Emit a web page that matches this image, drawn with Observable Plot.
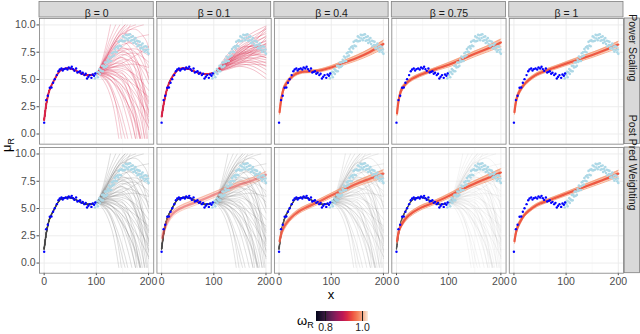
<!DOCTYPE html>
<html><head><meta charset="utf-8">
<script src="https://cdn.jsdelivr.net/npm/d3@7"></script>
<script src="https://cdn.jsdelivr.net/npm/@observablehq/plot@0.6"></script>
<style>
body{margin:0;background:#fff;}
#wrap{position:relative;width:640px;height:334px;overflow:hidden;background:#fff;font-family:"Liberation Sans",Arial,Helvetica,sans-serif;}
#chart{position:absolute;left:0;top:0;}
.lbl{position:absolute;color:#000;white-space:nowrap;}
.sub{font-size:9px;position:relative;top:3px;}
</style></head><body>
<div id="wrap"><div id="chart"></div>
<div class="lbl" style="left:-13px;top:137px;width:40px;height:16px;line-height:16px;text-align:center;transform:rotate(-90deg);font-size:13px;">μ<span class="sub">R</span></div>
<div class="lbl" style="left:311px;top:287px;width:40px;line-height:16px;text-align:center;font-size:13px;">x</div>
<div class="lbl" style="left:297px;top:314px;line-height:13px;font-size:13px;">ω<span class="sub">R</span></div>
<div id="legend" style="position:absolute;left:315.7px;top:311px;"></div>
</div>
<script>
// ---------- categories & ticks ----------
const betas = ["β = 0", "β = 0.1", "β = 0.4", "β = 0.75", "β = 1"];
const methods = ["Power Scaling", "Post Pred Weighting"];
const xTicks = [0, 100, 200];
const xMinor = [50, 150];
const yTicks = [0, 2.5, 5, 7.5, 10];
const yMinor = [1.25, 3.75, 6.25, 8.75];
const omegaTicks = [0.8, 1.0];

// ---------- observed (training) data ----------
const obsX = [0, 3.8, 7, 10.8, 14, 17.1, 20.3, 24.2, 27.4, 29.9, 33.1, 35.6, 38.2, 41.4, 44.6, 47.1, 50.3, 52.9, 55.4, 58, 61.2, 63.7, 66.3, 68.8, 71.4, 73.9, 77.1, 79.6, 82.2, 84.7, 87.3, 90.5, 93, 95.6, 98.1];
const obsY = [1.04, 3.11, 3.51, 4.24, 4.27, 4.7, 5.03, 5.4, 5.76, 5.92, 6.01, 5.82, 5.95, 6.01, 5.92, 6.1, 6.01, 6.16, 5.95, 5.79, 6.01, 5.64, 5.7, 5.76, 5.52, 5.61, 5.4, 5.52, 5.09, 5.25, 5.4, 5.15, 5.46, 5.34, 5.55];

// ---------- test data ----------
const testX = [96, 97.5, 99, 100.5, 102, 103, 104.5, 106, 107, 108.5, 110, 111, 112.5, 114, 115, 116.5, 118, 119, 120.5, 122, 123, 124.5, 126, 127, 128.5, 130, 131, 132.5, 134, 135, 136.5, 138, 139, 140.5, 142, 143, 144.5, 146, 147, 148.5, 150, 151, 152.5, 154, 155, 156.5, 158, 159, 160.5, 162, 163, 164.5, 166, 167, 168.5, 170, 171, 172.5, 174, 175, 176.5, 178, 179, 180.5, 182, 183, 184.5, 186, 187, 188.5, 190, 191, 192.5, 194, 195, 196.5, 198, 199, 200];
const testY = [5.4, 5.1, 5.6, 5.4, 5.7, 5.2, 5.65, 5.95, 5.5, 5.85, 5.75, 6.25, 5.75, 6.25, 6.1, 6.55, 6.15, 6.55, 6.25, 6.8, 6.6, 7.1, 6.7, 7.0, 6.7, 7.4, 7.1, 7.5, 7.2, 7.8, 7.55, 7.95, 7.5, 8.05, 7.85, 8.45, 8.1, 8.55, 8.05, 8.6, 8.5, 8.95, 8.5, 8.85, 8.55, 9.1, 8.75, 9.05, 8.6, 9.1, 8.8, 9.15, 8.55, 8.9, 8.6, 8.95, 8.35, 8.65, 8.45, 8.8, 8.25, 8.55, 8.05, 8.5, 8.15, 8.45, 7.85, 8.15, 7.9, 8.3, 7.75, 8.0, 7.55, 8.05, 7.7, 8.0, 7.5, 7.75, 7.35];

// ---------- fitted curves over the training range ----------
const fitX = [0, 5, 10, 15, 20, 25, 30, 35, 40, 45, 50, 55, 60, 65, 70, 75, 80, 85, 90, 95, 100];
const fitBeta0 = [1.3, 3.0, 4.0, 4.55, 5.0, 5.45, 5.78, 5.95, 6.0, 6.02, 6.0, 5.93, 5.83, 5.7, 5.58, 5.48, 5.4, 5.38, 5.4, 5.45, 5.55];
const fitBeta01 = [1.6, 3.0, 4.05, 4.75, 5.2, 5.55, 5.82, 5.97, 6.02, 6.01, 5.97, 5.9, 5.8, 5.7, 5.61, 5.54, 5.5, 5.49, 5.51, 5.55, 5.6];

// ---------- extrapolation tails of the beta = 0 draws, [x, y] ----------
const tailsBeta0 = [
  [[110,6.6],[120,8.4],[127,10.0]],
  [[110,6.4],[125,8.6],[137,10.0]],
  [[115,6.9],[130,8.7],[145,10.0]],
  [[115,6.6],[135,8.7],[155,10.0]],
  [[120,7.0],[140,8.8],[160,9.7],[175,10.0]],
  [[125,7.2],[150,9.0],[170,9.7],[190,10.0]],
  [[125,7.8],[145,9.5],[155,10.0]],
  [[125,7.1],[150,8.8],[165,10.0]],
  [[125,6.7],[150,8.0],[175,8.8],[200,9.1]],
  [[125,6.0],[150,6.5],[175,7.2],[200,8.0]],
  [[125,6.6],[150,7.6],[175,7.8],[200,7.2]],
  [[125,7.0],[150,8.2],[175,8.3],[200,7.5]],
  [[125,7.4],[150,8.6],[175,8.0],[200,6.2]],
  [[125,7.6],[150,9.2],[170,9.0],[190,7.0],[200,5.0]],
  [[125,6.8],[150,7.8],[175,7.5],[200,5.2]],
  [[125,6.4],[150,7.2],[175,7.4],[200,6.6]],
  [[125,6.2],[150,6.8],[175,6.6],[200,5.6]],
  [[125,6.8],[150,7.5],[175,6.8],[200,4.6]],
  [[120,7.2],[140,8.5],[160,8.2],[180,6.0],[195,3.0],[200,1.8]],
  [[125,6.9],[150,7.9],[175,7.0],[195,3.5],[200,2.0]],
  [[125,6.5],[150,7.0],[175,6.0],[200,3.0]],
  [[125,6.1],[150,6.0],[175,5.4],[200,4.0]],
  [[125,6.3],[150,6.4],[175,4.8],[195,1.5],[200,0.4]],
  [[125,6.3],[150,7.0],[175,5.0],[190,1.5],[196,-0.4]],
  [[125,6.0],[150,6.2],[175,5.2],[200,2.8]],
  [[125,5.9],[150,5.8],[175,4.6],[200,2.2]],
  [[125,5.7],[150,5.5],[175,4.0],[200,1.2]],
  [[125,5.5],[150,5.0],[175,3.6],[200,1.6]],
  [[125,5.8],[150,5.2],[175,3.0],[193,-0.4]],
  [[125,5.8],[150,5.6],[170,3.0],[180,0.5],[183,-0.4]],
  [[125,5.6],[150,4.8],[170,2.5],[185,-0.4]],
  [[125,5.3],[150,4.4],[175,2.8],[200,0.6]],
  [[125,5.0],[150,3.6],[175,1.2],[185,-0.4]],
  [[120,5.2],[140,4.4],[160,2.8],[180,0.2],[183,-0.4]],
  [[125,5.4],[145,4.0],[165,1.5],[175,-0.4]],
  [[125,5.4],[150,4.0],[165,1.8],[175,-0.4]],
  [[125,5.1],[145,3.5],[160,1.2],[168,-0.4]],
  [[120,5.0],[140,3.0],[155,0.6],[160,-0.4]],
  [[120,4.8],[140,2.4],[150,0.5],[155,-0.4]],
  [[120,4.9],[135,3.2],[148,-0.4]],
  [[115,4.8],[130,3.0],[143,-0.4]],
  [[125,6.2],[150,6.6],[170,5.4],[185,2.2],[192,-0.4]],
  [[125,5.9],[150,5.0],[170,2.0],[178,-0.4]],
  [[125,6.5],[150,7.3],[175,6.5],[195,2.5],[200,1.0]],
  [[125,7.3],[150,9.2],[175,9.6],[195,8.6],[200,7.9]],
  [[120,6.6],[140,7.6],[160,7.4],[180,5.0],[195,1.0],[198,-0.4]],
  [[125,6.1],[150,6.3],[175,6.4],[200,6.1]],
  [[125,5.6],[150,5.2],[175,4.4],[200,3.4]],
  [[120,5.4],[140,4.9],[160,3.6],[180,1.4],[188,-0.4]],
  [[125,7.5],[150,9.5],[160,10.0]]
];

// ---------- extrapolation tails of the power-scaled beta = 0.1 draws ----------
const tailX01 = [125, 150, 175, 200];
const tailsBeta01 = [
  [7.2, 8.5, 9.3, 9.9], [7.0, 8.2, 9.0, 9.6], [6.9, 8.0, 8.7, 9.2], [6.8, 7.8, 8.4, 8.9],
  [6.7, 7.6, 8.1, 8.5], [6.6, 7.5, 7.9, 8.2], [6.6, 7.4, 7.7, 7.9], [6.5, 7.3, 7.6, 7.7],
  [6.5, 7.2, 7.5, 7.5], [6.4, 7.1, 7.3, 7.3], [6.4, 7.0, 7.2, 7.0], [6.3, 6.9, 7.0, 6.8],
  [6.3, 6.8, 6.9, 6.5], [6.2, 6.7, 6.7, 6.2], [6.1, 6.6, 6.5, 5.9], [6.0, 6.4, 6.2, 5.5],
  [5.9, 6.2, 5.9, 5.1], [6.7, 7.4, 8.3, 9.7], [6.5, 7.4, 8.2, 9.0], [6.4, 7.3, 7.9, 8.6],
  [6.3, 7.1, 7.6, 8.1], [6.6, 7.7, 8.1, 8.0], [6.2, 6.8, 7.2, 7.6], [6.1, 6.5, 6.9, 7.2],
  [6.0, 6.3, 6.4, 6.3], [6.8, 7.9, 8.0, 7.4], [6.5, 7.0, 7.7, 8.8], [6.3, 6.6, 7.4, 8.3],
  [6.6, 7.6, 8.5, 9.4], [6.4, 7.2, 7.8, 8.3], [6.2, 6.9, 7.4, 7.8], [6.0, 6.5, 6.6, 6.6],
  [6.5, 7.3, 7.4, 7.0], [6.7, 7.8, 8.7, 9.8]
];

// ---------- weighted / scaled bands: lower, middle, upper ----------
const bandX = [1, 5, 10, 20, 30, 40, 50, 75, 100, 125, 150, 175, 200];
const powB04Lo  = [1.8, 3.2, 4.1, 4.85, 5.3, 5.52, 5.6, 5.68, 5.95, 6.35, 6.75, 7.25, 7.85];
const powB04Mid = [2.0, 3.4, 4.3, 5.0, 5.45, 5.65, 5.72, 5.8, 6.1, 6.55, 7.0, 7.55, 8.25];
const powB04Hi  = [2.2, 3.6, 4.5, 5.15, 5.6, 5.78, 5.85, 5.92, 6.25, 6.75, 7.25, 7.85, 8.6];
const powB075Lo  = [1.7, 3.1, 3.9, 4.55, 4.9, 5.15, 5.35, 5.8, 6.15, 6.6, 7.1, 7.55, 8.0];
const powB075Mid = [1.9, 3.3, 4.1, 4.7, 5.05, 5.3, 5.5, 5.95, 6.35, 6.85, 7.35, 7.85, 8.4];
const powB075Hi  = [2.1, 3.5, 4.3, 4.85, 5.2, 5.45, 5.65, 6.1, 6.55, 7.05, 7.6, 8.1, 8.7];
const powB1Lo  = [1.8, 3.0, 3.65, 4.4, 4.85, 5.2, 5.45, 5.88, 6.28, 6.65, 7.02, 7.45, 7.9];
const powB1Mid = [2.0, 3.2, 3.85, 4.55, 5.0, 5.35, 5.6, 6.03, 6.45, 6.85, 7.25, 7.7, 8.2];
const powB1Hi  = [2.2, 3.4, 4.05, 4.7, 5.15, 5.5, 5.75, 6.18, 6.62, 7.05, 7.48, 7.95, 8.5];
const ppB01Lo  = [2.0, 2.7, 3.4, 4.2, 4.6, 4.85, 5.05, 5.5, 6.0, 6.5, 6.95, 7.35, 7.8];
const ppB01Mid = [2.3, 3.0, 3.7, 4.45, 4.85, 5.1, 5.3, 5.75, 6.25, 6.75, 7.2, 7.6, 8.1];
const ppB01Hi  = [2.6, 3.3, 4.0, 4.7, 5.1, 5.35, 5.55, 6.0, 6.5, 7.0, 7.45, 7.85, 8.4];
const ppB04Lo  = [1.8, 2.55, 3.1, 3.8, 4.25, 4.6, 4.85, 5.4, 6.0, 6.5, 7.05, 7.45, 7.85];
const ppB04Mid = [2.0, 2.8, 3.35, 4.0, 4.45, 4.8, 5.05, 5.6, 6.2, 6.75, 7.3, 7.75, 8.2];
const ppB04Hi  = [2.2, 3.05, 3.6, 4.2, 4.65, 5.0, 5.25, 5.8, 6.4, 7.0, 7.55, 8.05, 8.55];
const ppB075Lo  = [1.8, 2.8, 3.35, 4.0, 4.4, 4.7, 4.95, 5.42, 5.95, 6.52, 7.05, 7.5, 7.95];
const ppB075Mid = [2.0, 3.0, 3.55, 4.2, 4.6, 4.9, 5.15, 5.6, 6.15, 6.75, 7.3, 7.8, 8.3];
const ppB075Hi  = [2.2, 3.2, 3.75, 4.4, 4.8, 5.1, 5.35, 5.78, 6.35, 6.98, 7.55, 8.1, 8.65];
const ppB1Lo  = [1.8, 2.8, 3.4, 4.25, 4.7, 5.05, 5.3, 5.75, 6.18, 6.6, 7.02, 7.45, 7.9];
const ppB1Mid = [2.0, 3.0, 3.6, 4.4, 4.85, 5.2, 5.45, 5.9, 6.35, 6.8, 7.25, 7.7, 8.2];
const ppB1Hi  = [2.2, 3.2, 3.8, 4.55, 5.0, 5.35, 5.6, 6.05, 6.52, 7.0, 7.48, 7.95, 8.5];

// weights (omega_R) used for colouring
const fanOmega = 0.915;
const bandMidOmega = [0.95, 0.95, 0.95, 0.93, 0.95, 0.95, 0.95];
const bandEdgeOmega = [0.99, 0.99, 0.99, 0.97, 0.99, 0.99, 0.99];

// ---------- styles ----------
const rocket = ["#03051A","#221331","#451C47","#6A1F56","#921C5B","#B91657","#D92847","#ED513E","#F47F58","#F6AD88","#FAEBDD"];
const ppGrayOpacity = [0.38, 0.33, 0.24, 0.12];
const ppBodyOpacity = [0.85, 0.8, 0.6, 0.45];
const bandOpacity = [1, 1, 1, 0.45, 0.9, 1, 1];

// ---------- layout ----------
const W = 640, H = 305, mL = 39, mR = 17, mT = 18, mB = 32.3, gapX = 3.2, gapY = 3.4;
const bwX = (W - mL - mR - 4 * gapX) / 5, bwY = (H - mT - mB - gapY) / 2;
const padX = gapX / (bwX + gapX), padY = gapY / (bwY + gapY);

// ---------- build tables ----------
function seriesRows(id, fx, fy, xs, ys, w) {
  return xs.map((x, i) => ({id, fx, fy, x, y: ys[i], w}));
}
const fan0Rows = tailsBeta0.flatMap((t, i) =>
  seriesRows("p0-" + i, betas[0], methods[0], fitX.concat(t.map(p => p[0])), fitBeta0.concat(t.map(p => p[1])), fanOmega));
const fan01Rows = tailsBeta01.flatMap((t, i) =>
  seriesRows("p01-" + i, betas[1], methods[0], fitX.concat(tailX01), fitBeta01.concat(t), fanOmega));
const ppGrayRows = [0, 1, 2, 3].map(k => tailsBeta0.flatMap((t, i) =>
  seriesRows("g" + k + "-" + i, betas[k], methods[1], fitX.concat(t.map(p => p[0])), fitBeta0.concat(t.map(p => p[1])), null)));
const ppBodyRows = [0, 1, 2, 3].map(k => seriesRows("gb" + k, betas[k], methods[1], fitX, fitBeta0, null));
const powBodyRows = seriesRows("pb0", betas[0], methods[0], fitX, fitBeta0, fanOmega)
  .concat(seriesRows("pb01", betas[1], methods[0], fitX, fitBeta01, fanOmega));

const bandSpecs = [
  [betas[2], methods[0], powB04Lo, powB04Mid, powB04Hi],
  [betas[3], methods[0], powB075Lo, powB075Mid, powB075Hi],
  [betas[4], methods[0], powB1Lo, powB1Mid, powB1Hi],
  [betas[1], methods[1], ppB01Lo, ppB01Mid, ppB01Hi],
  [betas[2], methods[1], ppB04Lo, ppB04Mid, ppB04Hi],
  [betas[3], methods[1], ppB075Lo, ppB075Mid, ppB075Hi],
  [betas[4], methods[1], ppB1Lo, ppB1Mid, ppB1Hi]
];
const bandRows = bandSpecs.flatMap(([fx, fy, lo, mid, hi], k) => bandX.map((x, i) => ({
  id: "b" + k, fx, fy, x, lo: lo[i], mid: mid[i], hi: hi[i], wm: bandMidOmega[k], we: bandEdgeOmega[k],
  op: bandOpacity[k], fop: 0.6 * bandOpacity[k]
})));

const obsRows = obsX.map((x, i) => ({x, y: obsY[i]}));
const testRows = testX.map((x, i) => ({x, y: testY[i]}));
const stripTop = betas.map(b => ({fx: b, fy: methods[0], label: b}));
const stripRight = methods.map(m => ({fx: betas[4], fy: m, label: m}));

const colorOpts = {type: "linear", domain: [0.75, 1.03], interpolate: d3.piecewise(d3.interpolateRgb, rocket)};
const common = {x: "x", fx: "fx", fy: "fy", z: "id", curve: "catmull-rom"};

const marks = [
  Plot.ruleX(xMinor, {stroke: "#F3F3F3", strokeWidth: 0.5}),
  Plot.ruleY(yMinor, {stroke: "#F3F3F3", strokeWidth: 0.5}),
  Plot.ruleX(xTicks, {stroke: "#EBEBEB", strokeWidth: 0.9}),
  Plot.ruleY(yTicks, {stroke: "#EBEBEB", strokeWidth: 0.9})
];
[0, 1, 2, 3].forEach(k => {
  marks.push(Plot.line(ppGrayRows[k], {...common, y: "y", stroke: "#6A6A6A", strokeOpacity: ppGrayOpacity[k], strokeWidth: 0.6}));
  marks.push(Plot.line(ppBodyRows[k], {...common, y: "y", stroke: "#3C3C3C", strokeOpacity: ppBodyOpacity[k], strokeWidth: 1.6}));
});
marks.push(
  Plot.line(fan0Rows, {...common, y: "y", stroke: "w", strokeOpacity: 0.38, strokeWidth: 0.65}),
  Plot.line(fan01Rows, {...common, y: "y", stroke: "w", strokeOpacity: 0.45, strokeWidth: 0.65}),
  Plot.line(powBodyRows, {...common, y: "y", stroke: "w", strokeOpacity: 0.9, strokeWidth: 2}),
  Plot.areaY(bandRows, {...common, y1: "lo", y2: "hi", fill: "we", fillOpacity: "fop"}),
  Plot.line(bandRows, {...common, y: "lo", stroke: "we", strokeOpacity: "op", strokeWidth: 0.8}),
  Plot.line(bandRows, {...common, y: "hi", stroke: "we", strokeOpacity: "op", strokeWidth: 0.8}),
  Plot.line(bandRows, {...common, y: "mid", stroke: "wm", strokeOpacity: "op", strokeWidth: 2.2}),
  Plot.dot(testRows, {x: "x", y: "y", r: 1.3, fill: "#ADD8E6", stroke: "none"}),
  Plot.dot(obsRows, {x: "x", y: "y", r: 1.2, fill: "#0000FF", stroke: "none"}),
  Plot.frame({stroke: "#7F7F7F", strokeWidth: 0.8}),
  Plot.rect(stripTop, {fx: "fx", fy: "fy", fill: "#D9D9D9", stroke: "#7F7F7F", strokeWidth: 0.8, insetTop: -16.5, insetBottom: bwY + 1}),
  Plot.text(stripTop, {fx: "fx", fy: "fy", text: "label", frameAnchor: "top", dy: -8.75, fill: "#1A1A1A", fontSize: 10.5}),
  Plot.rect(stripRight, {fx: "fx", fy: "fy", fill: "#D9D9D9", stroke: "#7F7F7F", strokeWidth: 0.8, insetLeft: bwX + 1.2, insetRight: -16.5}),
  Plot.text(stripRight, {fx: "fx", fy: "fy", text: "label", frameAnchor: "right", dx: 8.9, rotate: 90, fill: "#1A1A1A", fontSize: 10.5})
);

const plot = Plot.plot({
  width: W, height: H,
  marginTop: mT, marginRight: mR, marginBottom: mB, marginLeft: mL,
  fx: {domain: betas, axis: null, paddingInner: padX, paddingOuter: 0, round: false, label: null},
  fy: {domain: methods, axis: null, paddingInner: padY, paddingOuter: 0, round: false, label: null},
  x: {domain: [-8.95, 209.95], ticks: xTicks, tickSize: 2.5, tickPadding: 1.5, label: null},
  y: {domain: [-0.93, 10.59], ticks: yTicks, tickFormat: d3.format(".1f"), tickSize: 2.5, tickPadding: 1.5, label: null},
  color: colorOpts,
  style: {fontFamily: "'Liberation Sans', Arial, sans-serif", fontSize: "10.5px", color: "#4D4D4D", background: "white", overflow: "visible"},
  marks
});
document.getElementById("chart").append(plot);

const legend = Plot.legend({
  color: {...colorOpts, label: null},
  label: null, width: 62, height: 26, marginTop: 0, marginBottom: 16, marginLeft: 0, marginRight: 10,
  ticks: omegaTicks, tickSize: 0, tickFormat: d3.format(".1f"),
  style: {fontFamily: "'Liberation Sans', Arial, sans-serif", fontSize: "10.5px", color: "#1A1A1A", overflow: "visible"}
});
document.getElementById("legend").append(legend);
</script>
</body></html>
